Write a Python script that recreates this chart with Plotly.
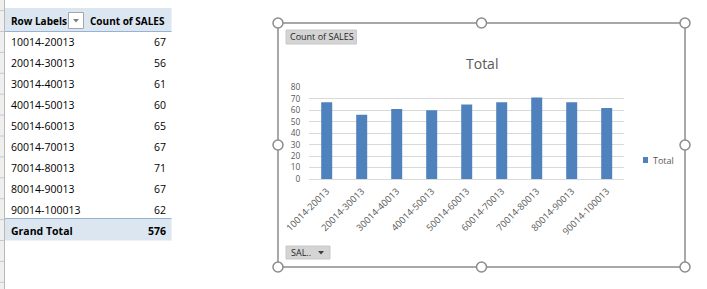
import plotly.graph_objects as go

W, H = 707, 289

# ---- data ----
categories = ["10014-20013", "20014-30013", "30014-40013", "40014-50013",
              "50014-60013", "60014-70013", "70014-80013", "80014-90013",
              "90014-100013"]
counts = [67, 56, 61, 60, 65, 67, 71, 67, 62]
grand_total = 576
series_name = "Total"
field_label = "Count of SALES"
row_header = "Row Labels"
y_ticks = [0, 10, 20, 30, 40, 50, 60, 70, 80]

FONT = "Open Sans"
BLUE = "#4F81BD"
GREY_TXT = "#595959"


def px(x):
    return x / W


def py(y):
    return 1 - y / H


fig = go.Figure()
fig.add_trace(go.Bar(x=categories, y=counts, name=series_name,
                     marker=dict(color=BLUE, line=dict(width=0)),
                     showlegend=False, hoverinfo="x+y"))

shapes = []
ann = []

# ---- spreadsheet row-header strip ----
shapes.append(dict(type="rect", xref="paper", yref="paper",
                   x0=0, x1=px(4.5), y0=0, y1=1,
                   fillcolor="#EFEFEF", line=dict(width=0), layer="below"))
shapes.append(dict(type="line", xref="paper", yref="paper",
                   x0=px(4.5), x1=px(4.5), y0=0, y1=1,
                   line=dict(color="#B8B8B8", width=1)))
ROW_H = 20.9
for k in range(-1, 13):
    yb = 31.5 + k * ROW_H
    shapes.append(dict(type="line", xref="paper", yref="paper",
                       x0=0, x1=px(4.5), y0=py(yb), y1=py(yb),
                       line=dict(color="#C8C8C8", width=1)))

# ---- pivot table ----
shapes.append(dict(type="rect", xref="paper", yref="paper",
                   x0=px(5), x1=px(171.5), y0=py(31.5), y1=py(8),
                   fillcolor="#DCE6F1", line=dict(width=0), layer="below"))
shapes.append(dict(type="line", xref="paper", yref="paper",
                   x0=px(5), x1=px(171.5), y0=py(31.5), y1=py(31.5),
                   line=dict(color="#95B3D7", width=1)))
# dropdown button in header
shapes.append(dict(type="rect", xref="paper", yref="paper",
                   x0=px(68.5), x1=px(83.5), y0=py(28.5), y1=py(12.5),
                   fillcolor="#FFFFFF", line=dict(color="#A6A6A6", width=1)))
shapes.append(dict(type="path", xref="paper", yref="paper",
                   path=f"M {px(73)} {py(19)} L {px(79)} {py(19)} L {px(76)} {py(22.5)} Z",
                   fillcolor="#7F7F7F", line=dict(width=0)))
# grand total fill
shapes.append(dict(type="rect", xref="paper", yref="paper",
                   x0=px(5), x1=px(171.5), y0=py(240.5), y1=py(218.5),
                   fillcolor="#DCE6F1", line=dict(width=0), layer="below"))
shapes.append(dict(type="line", xref="paper", yref="paper",
                   x0=px(5), x1=px(171.5), y0=py(218.5), y1=py(218.5),
                   line=dict(color="#95B3D7", width=1)))

TS = 10.5
ann.append(dict(text=f"<b>{row_header}</b>", x=px(8.5), y=py(21), xanchor="left",
                yanchor="middle", font=dict(size=10, color="#000000")))
ann.append(dict(text=f"<b>{field_label}</b>", x=px(87.5), y=py(21), xanchor="left",
                yanchor="middle", font=dict(size=10, color="#000000")))
for i, (c, v) in enumerate(zip(categories, counts)):
    yy = 42.3 + i * ROW_H
    ann.append(dict(text=c, x=px(8.5), y=py(yy), xanchor="left", yanchor="middle",
                    font=dict(size=TS, color="#000000")))
    ann.append(dict(text=str(v), x=px(168), y=py(yy), xanchor="right", yanchor="middle",
                    font=dict(size=TS, color="#000000")))
ann.append(dict(text="<b>Grand Total</b>", x=px(8.5), y=py(230.5), xanchor="left",
                yanchor="middle", font=dict(size=TS, color="#000000")))
ann.append(dict(text=f"<b>{grand_total}</b>", x=px(168), y=py(230.5), xanchor="right",
                yanchor="middle", font=dict(size=TS, color="#000000")))

# ---- chart frame ----
FX0, FX1, FY0, FY1 = 278, 685, 23, 267
shapes.append(dict(type="rect", xref="paper", yref="paper",
                   x0=px(FX0), x1=px(FX1), y0=py(FY1), y1=py(FY0),
                   fillcolor="rgba(0,0,0,0)", line=dict(color="#8C8C8C", width=1.5)))
FXM, FYM = (FX0 + FX1) / 2, (FY0 + FY1) / 2
for cx, cy in [(FX0, FY0), (FXM, FY0), (FX1, FY0), (FX0, FYM), (FX1, FYM),
               (FX0, FY1), (FXM, FY1), (FX1, FY1)]:
    shapes.append(dict(type="circle", xref="paper", yref="paper",
                       x0=px(cx - 5), x1=px(cx + 5), y0=py(cy + 5), y1=py(cy - 5),
                       fillcolor="#FFFFFF", line=dict(color="#8C8C8C", width=1.5)))

# field buttons
shapes.append(dict(type="rect", xref="paper", yref="paper",
                   x0=px(286), x1=px(356.5), y0=py(44), y1=py(30),
                   fillcolor="#D4D4D4", line=dict(color="#C8C8C8", width=1)))
ann.append(dict(text=field_label, x=px(288), y=py(37), xanchor="left", yanchor="middle",
                font=dict(size=9, color="#262626")))
shapes.append(dict(type="rect", xref="paper", yref="paper",
                   x0=px(286), x1=px(330), y0=py(259), y1=py(246),
                   fillcolor="#D4D4D4", line=dict(color="#C8C8C8", width=1)))
ann.append(dict(text="SAL..", x=px(289), y=py(252.5), xanchor="left", yanchor="middle",
                font=dict(size=9, color="#262626")))
shapes.append(dict(type="path", xref="paper", yref="paper",
                   path=f"M {px(318)} {py(251)} L {px(324)} {py(251)} L {px(321)} {py(254.5)} Z",
                   fillcolor="#404040", line=dict(width=0)))

# legend (manual)
shapes.append(dict(type="rect", xref="paper", yref="paper",
                   x0=px(643), x1=px(648), y0=py(163), y1=py(157),
                   fillcolor=BLUE, line=dict(width=0)))
ann.append(dict(text=series_name, x=px(650.5), y=py(160), xanchor="left", yanchor="middle",
                font=dict(size=9, color=GREY_TXT)))

# title
ann.append(dict(text=series_name, x=px(481.5), y=py(63), xanchor="center", yanchor="middle",
                font=dict(size=14, color=GREY_TXT)))

for a in ann:
    a.update(xref="paper", yref="paper", showarrow=False)

fig.update_layout(
    width=W, height=H, autosize=False,
    margin=dict(l=0, r=0, t=0, b=0, pad=0, autoexpand=False),
    paper_bgcolor="#FFFFFF", plot_bgcolor="rgba(0,0,0,0)",
    font=dict(family=FONT, color="#000000"),
    bargap=0.686,
    shapes=shapes, annotations=ann,
    xaxis=dict(domain=[px(309.2), px(624.2)], type="category", tickangle=-45,
               tickfont=dict(size=9.3, color=GREY_TXT), showgrid=False,
               showline=False, ticks="", zeroline=False, fixedrange=True,
               automargin=False, ticklabelstandoff=4),
    yaxis=dict(domain=[py(179), py(87.3)], range=[0, 80], tickvals=y_ticks,
               tickfont=dict(size=8.3, color=GREY_TXT), showgrid=True,
               gridcolor="#D9D9D9", gridwidth=1, zeroline=True,
               zerolinecolor="#D9D9D9", zerolinewidth=1, showline=False,
               ticks="", ticklabelstandoff=8, fixedrange=True,
               automargin=False),
)

fig.write_html("out.html", config={"displayModeBar": False})
